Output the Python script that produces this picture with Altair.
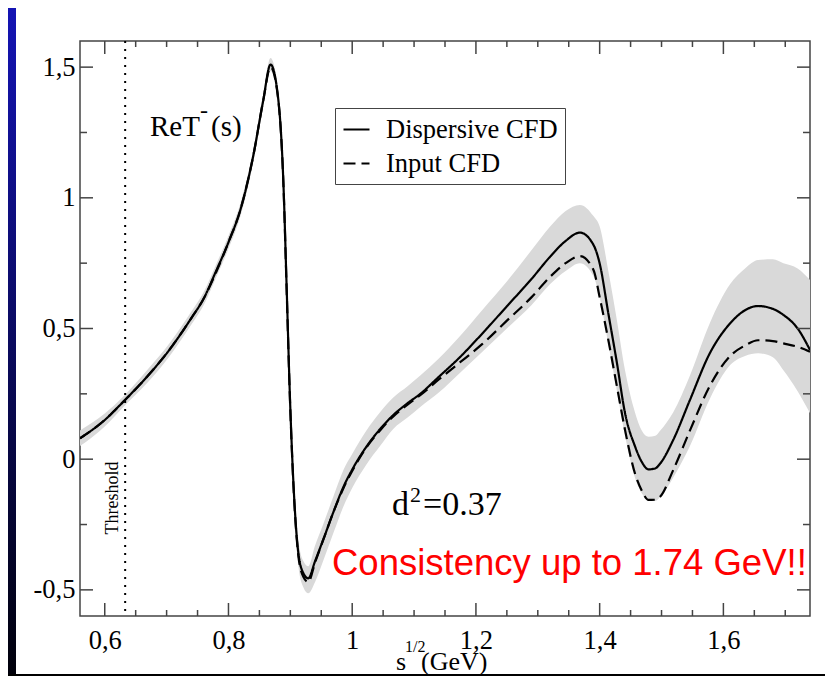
import altair as alt
import pandas as pd

# ---------------- data ----------------
x_vals = [0.56, 0.60, 0.63, 0.67, 0.705, 0.74, 0.76, 0.78, 0.80, 0.82, 0.84, 0.856, 0.868,
          0.878, 0.889, 0.894, 0.8995, 0.905, 0.913, 0.921, 0.929, 0.94, 0.953, 0.97, 0.986,
          1.0, 1.023, 1.045, 1.066, 1.09, 1.11, 1.14, 1.174, 1.21, 1.25, 1.29, 1.32, 1.345,
          1.368, 1.39, 1.40, 1.414, 1.428, 1.441, 1.457, 1.468, 1.479, 1.49, 1.498, 1.519,
          1.546, 1.578, 1.611, 1.635, 1.656, 1.68, 1.697, 1.72, 1.74]

dispersive = [0.08, 0.15, 0.22, 0.32, 0.42, 0.54, 0.615, 0.72, 0.83, 0.96, 1.16, 1.37, 1.51,
              1.425, 1.043, 0.66, 0.227, -0.092, -0.36, -0.436, -0.456, -0.39, -0.309, -0.2, -0.105,
              -0.04, 0.048, 0.115, 0.168, 0.215, 0.25, 0.315, 0.39, 0.48, 0.585, 0.69, 0.775, 0.835,
              0.867, 0.82, 0.749, 0.558, 0.367, 0.176, 0.05, -0.01, -0.039, -0.035, -0.016, 0.074,
              0.227, 0.405, 0.52, 0.57, 0.586, 0.575, 0.552, 0.5, 0.418]

input_cfd = [0.08, 0.15, 0.22, 0.32, 0.42, 0.54, 0.615, 0.715, 0.83, 0.96, 1.16, 1.37, 1.50,
             1.42, 1.04, 0.65, 0.22, -0.10, -0.37, -0.45, -0.47, -0.395, -0.31, -0.2, -0.11,
             -0.045, 0.045, 0.11, 0.163, 0.21, 0.245, 0.305, 0.37, 0.44, 0.53, 0.62, 0.698, 0.75,
             0.777, 0.724, 0.62, 0.456, 0.277, 0.112, -0.054, -0.12, -0.156, -0.155, -0.143, -0.041,
             0.11, 0.28, 0.395, 0.435, 0.455, 0.452, 0.443, 0.43, 0.411]

band_lo = [0.05, 0.125, 0.20, 0.295, 0.395, 0.515, 0.59, 0.695, 0.805, 0.935, 1.135, 1.345, 1.485,
           1.40, 1.01, 0.62, 0.18, -0.14, -0.41, -0.49, -0.513, -0.47, -0.39, -0.28, -0.18,
           -0.11, -0.02, 0.05, 0.115, 0.16, 0.2, 0.255, 0.33, 0.41, 0.50, 0.59, 0.67, 0.72,
           0.75, 0.70, 0.62, 0.44, 0.26, 0.09, -0.07, -0.13, -0.155, -0.16, -0.145, -0.07,
           0.05, 0.23, 0.36, 0.395, 0.405, 0.39, 0.34, 0.26, 0.176]

band_hi = [0.11, 0.175, 0.24, 0.345, 0.445, 0.565, 0.64, 0.745, 0.855, 0.985, 1.185, 1.395, 1.535,
           1.45, 1.07, 0.70, 0.27, -0.05, -0.31, -0.39, -0.41, -0.33, -0.25, -0.14, -0.04,
           0.02, 0.11, 0.18, 0.235, 0.28, 0.32, 0.385, 0.47, 0.57, 0.68, 0.80, 0.89, 0.95,
           0.973, 0.93, 0.89, 0.72, 0.53, 0.34, 0.18, 0.11, 0.086, 0.09, 0.11, 0.18,
           0.32, 0.52, 0.67, 0.73, 0.762, 0.765, 0.75, 0.73, 0.686]

series_names = ["Dispersive CFD", "Input CFD"]
threshold = [0.633]

x_major = [0.6, 0.8, 1.0, 1.2, 1.4, 1.6]
x_minor = [0.65, 0.7, 0.75, 0.85, 0.9, 0.95, 1.05, 1.1, 1.15, 1.25, 1.3, 1.35,
           1.45, 1.5, 1.55, 1.65, 1.7]
y_major = [-0.5, 0, 0.5, 1, 1.5]
y_minor = [-0.25, 0.25, 0.75, 1.25]

texts = ["ReT", "-", "(s)", "d", "2", "=0.37", "Threshold",
         "Consistency up to 1.74 GeV!!", "s", "1/2", "(GeV)"]

# ---------------- chart ----------------
W, H = 730, 575
xs = alt.Scale(domain=[0.56, 1.74], nice=False, zero=False)
ys = alt.Scale(domain=[-0.6, 1.6], nice=False, zero=False)

n = len(x_vals)
lines_df = pd.DataFrame({
    "x": x_vals + x_vals,
    "y": dispersive + input_cfd,
    "series": [series_names[0]] * n + [series_names[1]] * n,
})
band_df = pd.DataFrame({"x": x_vals, "lo": band_lo, "hi": band_hi})
one = pd.DataFrame({"a": [0]})

label_expr = "replace(replace(format(datum.value, '~g'), '.', ','), '\u2212', '-')"
x_axis = alt.Axis(values=x_major, labelExpr=label_expr, ticks=False, tickSize=0, domain=False,
                  grid=False, labelFont="Liberation Serif", labelFontSize=26.5, labelColor="black",
                  labelPadding=11, labelFlush=False, labelOverlap=False, title=None)
y_axis = alt.Axis(values=y_major, labelExpr=label_expr, ticks=False, tickSize=0, domain=False,
                  grid=False, labelFont="Liberation Serif", labelFontSize=26.5, labelColor="black",
                  labelPadding=5, labelOverlap=False, title=None)

stripe = alt.Chart(one).mark_rect(
    fill=alt.Gradient(gradient="linear",
                      stops=[alt.GradientStop(offset=0, color="#1414b4"),
                             alt.GradientStop(offset=1, color="#00000a")],
                      x1=0, x2=0, y1=0, y2=1)
).encode(x=alt.value(-72), x2=alt.value(-64), y=alt.value(-33), y2=alt.value(635))

bottom_bar = alt.Chart(one).mark_rect(fill="black").encode(
    x=alt.value(-72), x2=alt.value(745), y=alt.value(633), y2=alt.value(635))

band = alt.Chart(band_df).mark_area(color="#d9d9d9", orient="vertical", clip=True,
                                    interpolate="monotone").encode(
    x=alt.X("x:Q", scale=xs, axis=x_axis),
    y=alt.Y("lo:Q", scale=ys, axis=y_axis),
    y2="hi:Q",
)

thr = alt.Chart(pd.DataFrame({"t": threshold})).mark_rule(
    color="black", strokeDash=[2, 6], strokeWidth=2).encode(
    x=alt.X("t:Q", scale=xs, axis=x_axis))

lines = alt.Chart(lines_df).mark_line(color="black", strokeWidth=2.2, clip=True,
                                      interpolate="monotone").encode(
    x=alt.X("x:Q", scale=xs, axis=x_axis),
    y=alt.Y("y:Q", scale=ys, axis=y_axis),
    strokeDash=alt.StrokeDash(
        "series:N",
        scale=alt.Scale(domain=series_names, range=[[1, 0], [12, 6]]),
        legend=alt.Legend(title=None, orient="none", legendX=255, legendY=67,
                          strokeColor="#444", fillColor="white", padding=7,
                          labelFont="Liberation Serif", labelFontSize=26.5, labelColor="black",
                          symbolType="stroke", symbolSize=676, symbolStrokeWidth=2.2,
                          symbolStrokeColor="black", labelOffset=15, rowPadding=6,
                          labelLimit=0),
    ),
)

tick_style = dict(color="#444", strokeWidth=1.5)


def xticks(vals, length):
    d = pd.DataFrame({"v": vals})
    bot = alt.Chart(d).mark_rule(**tick_style).encode(
        x=alt.X("v:Q", scale=xs, axis=x_axis), y=alt.value(H), y2=alt.value(H - length))
    top = alt.Chart(d).mark_rule(**tick_style).encode(
        x=alt.X("v:Q", scale=xs, axis=x_axis), y=alt.value(0), y2=alt.value(length))
    return [bot, top]


def yticks(vals, length):
    d = pd.DataFrame({"v": vals})
    left = alt.Chart(d).mark_rule(**tick_style).encode(
        y=alt.Y("v:Q", scale=ys, axis=y_axis), x=alt.value(0), x2=alt.value(length))
    right = alt.Chart(d).mark_rule(**tick_style).encode(
        y=alt.Y("v:Q", scale=ys, axis=y_axis), x=alt.value(W), x2=alt.value(W - length))
    return [left, right]


ticks = xticks(x_major, 13) + xticks(x_minor, 6) + yticks(y_major, 13) + yticks(y_minor, 7)


def txt(s, x, y, size, font="Liberation Serif", color="black", **kw):
    return alt.Chart(one).mark_text(text=s, font=font, fontSize=size, color=color,
                                    align=kw.pop("align", "left"),
                                    baseline=kw.pop("baseline", "alphabetic"), **kw).encode(
        x=alt.value(x), y=alt.value(y))


labels = [
    txt(texts[0], 70, 95, 29),
    txt(texts[1], 120, 77, 24),
    txt(texts[2], 131, 95, 29),
    txt(texts[3], 312, 474, 34),
    txt(texts[4], 330, 461, 22),
    txt(texts[5], 343, 474, 34),
    txt(texts[6], 33, 457, 18, align="center", baseline="middle", angle=270),
    txt(texts[7], 252, 534, 36.5, font="Liberation Sans", color="#ff0000"),
    txt(texts[8], 316, 629, 26),
    txt(texts[9], 325, 611, 16),
    txt(texts[10], 341, 629, 26),
]

chart = alt.layer(stripe, bottom_bar, band, thr, lines, *ticks, *labels).properties(
    width=W, height=H,
    padding={"left": 72, "top": 33, "right": 15, "bottom": 60},
    autosize=alt.AutoSizeParams(type="none"),
    background="white",
).configure_view(stroke="#444", strokeWidth=1.5)

chart.save("out.html", embed_options={"renderer": "svg", "actions": False})
